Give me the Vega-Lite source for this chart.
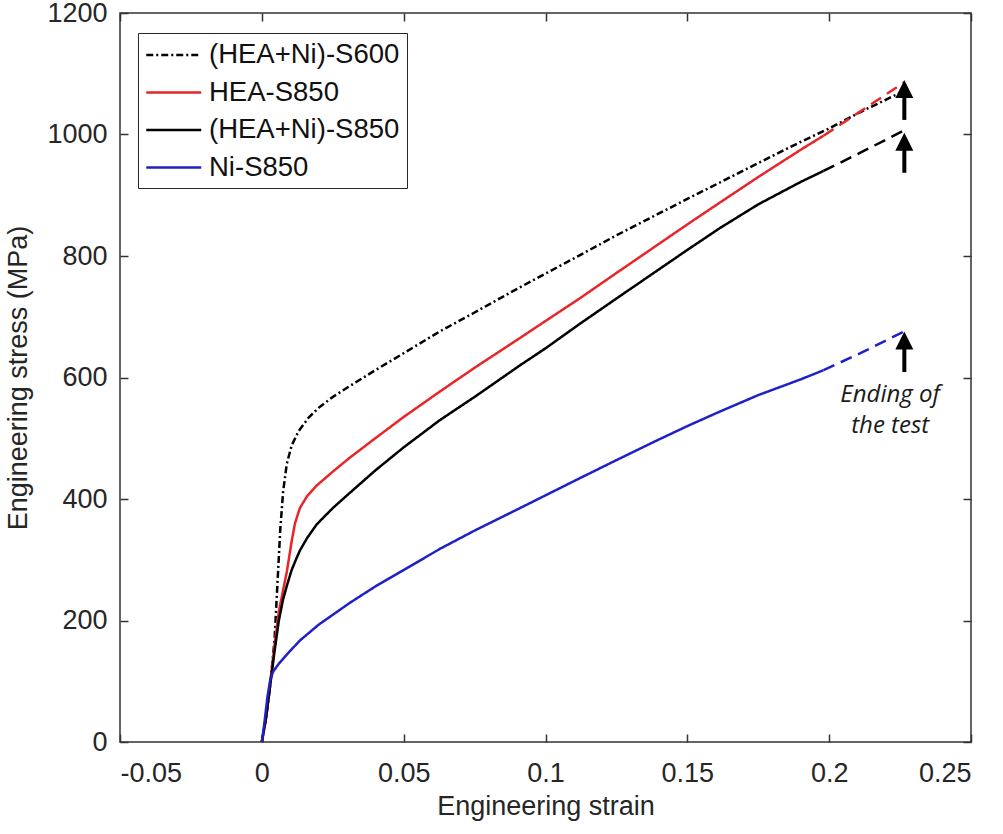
{
  "$schema": "https://vega.github.io/schema/vega-lite/v6.json",
  "width": 851,
  "height": 729,
  "autosize": {"type": "none"},
  "padding": {"left": 120, "top": 13, "right": 32, "bottom": 92},
  "background": "white",
  "config": {
    "view": {"stroke": "#333333", "strokeWidth": 1.5},
    "font": "Liberation Sans",
    "axis": {
      "grid": false,
      "domain": false,
      "labelFont": "Liberation Sans",
      "titleFont": "Liberation Sans",
      "labelFontSize": 27,
      "titleFontSize": 27,
      "titleFontWeight": "normal",
      "labelColor": "#262626",
      "titleColor": "#262626",
      "tickColor": "#333333",
      "tickWidth": 1.5,
      "tickSize": -8
    }
  },
  "datasets": {
    "c": [
      {"s": "(HEA+Ni)-S600", "x": 0, "y": 0},
      {"s": "(HEA+Ni)-S600", "x": 0.0015, "y": 40},
      {"s": "(HEA+Ni)-S600", "x": 0.003, "y": 95},
      {"s": "(HEA+Ni)-S600", "x": 0.0045, "y": 170},
      {"s": "(HEA+Ni)-S600", "x": 0.0055, "y": 260},
      {"s": "(HEA+Ni)-S600", "x": 0.0065, "y": 350},
      {"s": "(HEA+Ni)-S600", "x": 0.0075, "y": 412},
      {"s": "(HEA+Ni)-S600", "x": 0.0088, "y": 458},
      {"s": "(HEA+Ni)-S600", "x": 0.0105, "y": 488},
      {"s": "(HEA+Ni)-S600", "x": 0.013, "y": 512},
      {"s": "(HEA+Ni)-S600", "x": 0.0165, "y": 534},
      {"s": "(HEA+Ni)-S600", "x": 0.02, "y": 550},
      {"s": "(HEA+Ni)-S600", "x": 0.025, "y": 568},
      {"s": "(HEA+Ni)-S600", "x": 0.031, "y": 586},
      {"s": "(HEA+Ni)-S600", "x": 0.04, "y": 612},
      {"s": "(HEA+Ni)-S600", "x": 0.05, "y": 640},
      {"s": "(HEA+Ni)-S600", "x": 0.0628, "y": 676},
      {"s": "(HEA+Ni)-S600", "x": 0.075, "y": 707},
      {"s": "(HEA+Ni)-S600", "x": 0.09, "y": 746},
      {"s": "(HEA+Ni)-S600", "x": 0.1, "y": 771},
      {"s": "(HEA+Ni)-S600", "x": 0.112, "y": 801},
      {"s": "(HEA+Ni)-S600", "x": 0.125, "y": 834},
      {"s": "(HEA+Ni)-S600", "x": 0.14, "y": 870},
      {"s": "(HEA+Ni)-S600", "x": 0.15, "y": 894},
      {"s": "(HEA+Ni)-S600", "x": 0.1615, "y": 921},
      {"s": "(HEA+Ni)-S600", "x": 0.175, "y": 953},
      {"s": "(HEA+Ni)-S600", "x": 0.19, "y": 988},
      {"s": "(HEA+Ni)-S600", "x": 0.2, "y": 1010},
      {"s": "(HEA+Ni)-S600", "x": 0.211, "y": 1037},
      {"s": "(HEA+Ni)-S600", "x": 0.2265, "y": 1072},

      {"s": "HEA-S850", "x": 0, "y": 0},
      {"s": "HEA-S850", "x": 0.0015, "y": 40},
      {"s": "HEA-S850", "x": 0.003, "y": 100},
      {"s": "HEA-S850", "x": 0.0045, "y": 160},
      {"s": "HEA-S850", "x": 0.006, "y": 215},
      {"s": "HEA-S850", "x": 0.0075, "y": 250},
      {"s": "HEA-S850", "x": 0.0088, "y": 280},
      {"s": "HEA-S850", "x": 0.0105, "y": 330},
      {"s": "HEA-S850", "x": 0.0117, "y": 360},
      {"s": "HEA-S850", "x": 0.0134, "y": 385},
      {"s": "HEA-S850", "x": 0.016, "y": 405},
      {"s": "HEA-S850", "x": 0.0193, "y": 422},
      {"s": "HEA-S850", "x": 0.025, "y": 445},
      {"s": "HEA-S850", "x": 0.031, "y": 468},
      {"s": "HEA-S850", "x": 0.04, "y": 500},
      {"s": "HEA-S850", "x": 0.05, "y": 535},
      {"s": "HEA-S850", "x": 0.0628, "y": 577},
      {"s": "HEA-S850", "x": 0.075, "y": 616},
      {"s": "HEA-S850", "x": 0.091, "y": 665},
      {"s": "HEA-S850", "x": 0.1, "y": 693},
      {"s": "HEA-S850", "x": 0.112, "y": 730},
      {"s": "HEA-S850", "x": 0.125, "y": 772},
      {"s": "HEA-S850", "x": 0.14, "y": 820},
      {"s": "HEA-S850", "x": 0.15, "y": 852},
      {"s": "HEA-S850", "x": 0.1615, "y": 888},
      {"s": "HEA-S850", "x": 0.175, "y": 930},
      {"s": "HEA-S850", "x": 0.19, "y": 975},
      {"s": "HEA-S850", "x": 0.198, "y": 998},

      {"s": "(HEA+Ni)-S850", "x": 0, "y": 0},
      {"s": "(HEA+Ni)-S850", "x": 0.0015, "y": 40},
      {"s": "(HEA+Ni)-S850", "x": 0.003, "y": 95},
      {"s": "(HEA+Ni)-S850", "x": 0.0045, "y": 150},
      {"s": "(HEA+Ni)-S850", "x": 0.006, "y": 200},
      {"s": "(HEA+Ni)-S850", "x": 0.0075, "y": 235},
      {"s": "(HEA+Ni)-S850", "x": 0.009, "y": 260},
      {"s": "(HEA+Ni)-S850", "x": 0.0105, "y": 283},
      {"s": "(HEA+Ni)-S850", "x": 0.012, "y": 300},
      {"s": "(HEA+Ni)-S850", "x": 0.0134, "y": 315},
      {"s": "(HEA+Ni)-S850", "x": 0.016, "y": 336},
      {"s": "(HEA+Ni)-S850", "x": 0.0193, "y": 358},
      {"s": "(HEA+Ni)-S850", "x": 0.025, "y": 385},
      {"s": "(HEA+Ni)-S850", "x": 0.031, "y": 410},
      {"s": "(HEA+Ni)-S850", "x": 0.04, "y": 447},
      {"s": "(HEA+Ni)-S850", "x": 0.05, "y": 485},
      {"s": "(HEA+Ni)-S850", "x": 0.0628, "y": 530},
      {"s": "(HEA+Ni)-S850", "x": 0.075, "y": 568},
      {"s": "(HEA+Ni)-S850", "x": 0.091, "y": 620},
      {"s": "(HEA+Ni)-S850", "x": 0.1, "y": 648},
      {"s": "(HEA+Ni)-S850", "x": 0.112, "y": 688},
      {"s": "(HEA+Ni)-S850", "x": 0.125, "y": 730},
      {"s": "(HEA+Ni)-S850", "x": 0.14, "y": 778},
      {"s": "(HEA+Ni)-S850", "x": 0.15, "y": 810},
      {"s": "(HEA+Ni)-S850", "x": 0.1615, "y": 846},
      {"s": "(HEA+Ni)-S850", "x": 0.175, "y": 885},
      {"s": "(HEA+Ni)-S850", "x": 0.19, "y": 922},
      {"s": "(HEA+Ni)-S850", "x": 0.198, "y": 940},

      {"s": "Ni-S850", "x": 0, "y": 0},
      {"s": "Ni-S850", "x": 0.001, "y": 35},
      {"s": "Ni-S850", "x": 0.002, "y": 75},
      {"s": "Ni-S850", "x": 0.003, "y": 103},
      {"s": "Ni-S850", "x": 0.004, "y": 116},
      {"s": "Ni-S850", "x": 0.006, "y": 129},
      {"s": "Ni-S850", "x": 0.009, "y": 145},
      {"s": "Ni-S850", "x": 0.0134, "y": 167},
      {"s": "Ni-S850", "x": 0.02, "y": 193},
      {"s": "Ni-S850", "x": 0.031, "y": 229},
      {"s": "Ni-S850", "x": 0.04, "y": 256},
      {"s": "Ni-S850", "x": 0.05, "y": 283},
      {"s": "Ni-S850", "x": 0.0628, "y": 318},
      {"s": "Ni-S850", "x": 0.075, "y": 348},
      {"s": "Ni-S850", "x": 0.091, "y": 385},
      {"s": "Ni-S850", "x": 0.1, "y": 406},
      {"s": "Ni-S850", "x": 0.112, "y": 434},
      {"s": "Ni-S850", "x": 0.125, "y": 464},
      {"s": "Ni-S850", "x": 0.14, "y": 498},
      {"s": "Ni-S850", "x": 0.15, "y": 520},
      {"s": "Ni-S850", "x": 0.1615, "y": 544},
      {"s": "Ni-S850", "x": 0.175, "y": 571},
      {"s": "Ni-S850", "x": 0.19, "y": 597},
      {"s": "Ni-S850", "x": 0.198, "y": 612}
    ],
    "e": [
      {"s": "HEA-S850", "x": 0.198, "y": 998},
      {"s": "HEA-S850", "x": 0.211, "y": 1038},
      {"s": "HEA-S850", "x": 0.2265, "y": 1086},
      {"s": "(HEA+Ni)-S850", "x": 0.198, "y": 940},
      {"s": "(HEA+Ni)-S850", "x": 0.211, "y": 970},
      {"s": "(HEA+Ni)-S850", "x": 0.2265, "y": 1007},
      {"s": "Ni-S850", "x": 0.198, "y": 612},
      {"s": "Ni-S850", "x": 0.211, "y": 640},
      {"s": "Ni-S850", "x": 0.2265, "y": 676}
    ],
    "a": [
      {"x": 0.2265, "y1": 1024, "y2": 1072, "h": 1075},
      {"x": 0.2265, "y1": 937, "y2": 985, "h": 988},
      {"x": 0.2265, "y1": 609, "y2": 658, "h": 661}
    ],
    "n": [
      {"x": 0.2215, "y": 560, "t": "Ending of"},
      {"x": 0.2215, "y": 509, "t": "the test"}
    ]
  },
  "resolve": {"axis": {"x": "independent", "y": "independent"}},
  "layer": [
    {
      "data": {"name": "c"},
      "mark": {"type": "point", "opacity": 0},
      "encoding": {
        "x": {"field": "x", "type": "quantitative", "scale": {"domain": [-0.05, 0.25], "nice": false, "zero": false},
              "axis": {"orient": "top", "values": [-0.05, 0, 0.05, 0.1, 0.15, 0.2, 0.25], "labels": false, "title": null}},
        "y": {"field": "y", "type": "quantitative", "scale": {"domain": [0, 1200], "nice": false},
              "axis": {"orient": "right", "values": [0, 200, 400, 600, 800, 1000, 1200], "labels": false, "title": null}}
      }
    },
    {
      "data": {"name": "c"},
      "mark": {"type": "line", "strokeWidth": 2.5},
      "encoding": {
        "x": {"field": "x", "type": "quantitative",
              "axis": {"orient": "bottom", "values": [-0.05, 0, 0.05, 0.1, 0.15, 0.2, 0.25],
                       "labelExpr": "datum.value < 0 ? '-' + format(-datum.value, '~g') : format(datum.value, '~g')",
                       "labelPadding": 26, "title": "Engineering strain", "titlePadding": 7}},
        "y": {"field": "y", "type": "quantitative",
              "axis": {"orient": "left", "values": [0, 200, 400, 600, 800, 1000, 1200], "format": "d",
                       "labelPadding": 21, "title": "Engineering stress (MPa)", "titlePadding": 14}},
        "color": {"field": "s", "type": "nominal",
                  "scale": {"domain": ["(HEA+Ni)-S600", "HEA-S850", "(HEA+Ni)-S850", "Ni-S850"],
                            "range": ["#000000", "#e8262a", "#000000", "#2020c8"]},
                  "legend": {"orient": "none", "legendX": 18, "legendY": 20, "title": null,
                             "strokeColor": "#262626", "fillColor": "white", "padding": 7,
                             "symbolType": "M-1,0L3,0", "symbolSize": 756, "symbolStrokeWidth": 2.5,
                             "labelFontSize": 27.5, "labelColor": "#111111", "labelFont": "Liberation Sans",
                             "rowPadding": 8.5, "labelOffset": 34, "labelLimit": 400}},
        "strokeDash": {"field": "s", "type": "nominal",
                       "scale": {"domain": ["(HEA+Ni)-S600", "HEA-S850", "(HEA+Ni)-S850", "Ni-S850"],
                                 "range": [[7, 3, 2, 3], [1, 0], [1, 0], [1, 0]]},
                       "legend": {"orient": "none", "legendX": 18, "legendY": 20, "title": null}}
      }
    },
    {
      "data": {"name": "e"},
      "mark": {"type": "line", "strokeWidth": 2.5, "strokeDash": [12, 7]},
      "encoding": {
        "x": {"field": "x", "type": "quantitative", "axis": null},
        "y": {"field": "y", "type": "quantitative", "axis": null},
        "stroke": {"field": "s", "type": "nominal",
                   "scale": {"domain": ["(HEA+Ni)-S600", "HEA-S850", "(HEA+Ni)-S850", "Ni-S850"],
                             "range": ["#000000", "#e8262a", "#000000", "#2020c8"]},
                   "legend": null}
      }
    },
    {
      "data": {"name": "a"},
      "mark": {"type": "rule", "strokeWidth": 4, "color": "#000000"},
      "encoding": {
        "x": {"field": "x", "type": "quantitative", "axis": null},
        "y": {"field": "y1", "type": "quantitative", "axis": null},
        "y2": {"field": "y2"}
      }
    },
    {
      "data": {"name": "a"},
      "mark": {"type": "point", "filled": true, "opacity": 1, "color": "#000000", "shape": "M-1,1L0,-1L1,1Z", "size": 324},
      "encoding": {
        "x": {"field": "x", "type": "quantitative", "axis": null},
        "y": {"field": "h", "type": "quantitative", "axis": null}
      }
    },
    {
      "data": {"name": "n"},
      "mark": {"type": "text", "font": "Open Sans", "fontStyle": "italic", "fontSize": 24, "align": "center", "baseline": "alphabetic", "color": "#1a1a1a"},
      "encoding": {
        "x": {"field": "x", "type": "quantitative", "axis": null},
        "y": {"field": "y", "type": "quantitative", "axis": null},
        "text": {"field": "t"}
      }
    }
  ]
}
